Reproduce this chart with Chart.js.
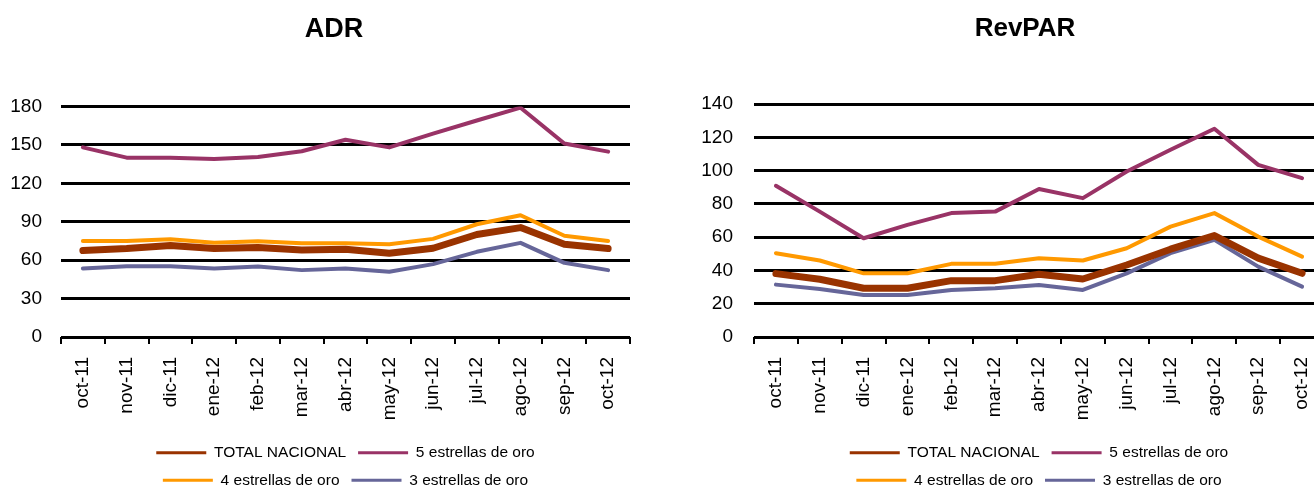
<!DOCTYPE html>
<html lang="es">
<head>
<meta charset="utf-8">
<title>ADR y RevPAR</title>
<script src="https://cdn.jsdelivr.net/npm/chart.js@4.4.0/dist/chart.umd.min.js"></script>
<style>
  html, body { margin: 0; padding: 0; background: #fff; overflow: hidden; }
  .chart-box { position: absolute; top: 0; height: 489px; }
  #adr-box { left: 0; width: 668px; }
  #revpar-box { left: 690px; width: 670px; }
</style>
</head>
<body>
<div class="chart-box" id="adr-box"><canvas id="adrChart"></canvas></div>
<div class="chart-box" id="revpar-box"><canvas id="revparChart"></canvas></div>
<script>
// Datos (oct-11 a oct-12)
const meses = ['oct-11', 'nov-11', 'dic-11', 'ene-12', 'feb-12', 'mar-12', 'abr-12',
               'may-12', 'jun-12', 'jul-12', 'ago-12', 'sep-12', 'oct-12'];
const categorias = ['TOTAL NACIONAL', '5 estrellas de oro', '4 estrellas de oro', '3 estrellas de oro'];

const adrTotal = [67.5, 69, 71.4, 69, 69.9, 68, 68.5, 65.4, 69.3, 80, 85.4, 72.4, 69];
const adr5 = [148, 140, 140, 139, 140.5, 145, 154, 148, 158.7, 169, 179, 151, 144.7];
const adr4 = [75, 75, 76.3, 73.5, 74.8, 73.2, 73.2, 72.4, 76.6, 88, 95, 79, 75];
const adr3 = [53.5, 55.3, 55.3, 53.5, 55, 52.2, 53.5, 50.9, 56.9, 66.5, 73.5, 57.9, 52.2];
const adrTicks = [0, 30, 60, 90, 120, 150, 180];

const revparTotal = [38.1, 34.7, 29.3, 29.3, 33.9, 33.9, 37.7, 34.9, 43.3, 52.8, 61, 47.4, 38.3];
const revpar5 = [90.9, 75.4, 59.4, 67.4, 74.5, 75.4, 89, 83.5, 99.5, 112.6, 125.2, 103.5, 95.5];
const revpar4 = [50.4, 46, 38.3, 38.3, 44, 44, 47.4, 46, 53.4, 66.4, 74.5, 60.4, 48.3];
const revpar3 = [31.5, 28.9, 25.3, 25.3, 28.3, 29.3, 31.3, 28.3, 38.3, 50.4, 58.4, 42.3, 30.3];
const revparTicks = [0, 20, 40, 60, 80, 100, 120, 140];

{
    const FUENTE = '"Liberation Sans", Arial, sans-serif';
    // colores y grosores de cada serie, en el mismo orden que categorias
    const estilos = [
        { color: '#993300', ancho: 7 },
        { color: '#993366', ancho: 4 },
        { color: '#FF9900', ancho: 4 },
        { color: '#666699', ancho: 4 }
    ];

    const Reporte = {
        charts: {},

        init() {
            this.charts.adr = this.crearGrafico('adrChart', 'ADR',
                [adrTotal, adr5, adr4, adr3], adrTicks,
                { ejeY: 61, padY: 19, derecha: 38, tituloPx: 27, tituloAbajo: 61 });
            this.charts.revpar = this.crearGrafico('revparChart', 'RevPAR',
                [revparTotal, revpar5, revpar4, revpar3], revparTicks,
                { ejeY: 64, padY: 21, derecha: 36, tituloPx: 26, tituloAbajo: 60 });
        },

        crearGrafico(id, titulo, valores, ticks, lay) {
            const ctx = document.getElementById(id);
            return new Chart(ctx, {
                type: 'line',
                data: {
                    labels: meses,
                    datasets: categorias.map((nombre, i) => ({
                        label: nombre,
                        data: valores[i],
                        borderColor: estilos[i].color,
                        backgroundColor: estilos[i].color,
                        borderWidth: estilos[i].ancho,
                        pointRadius: 0,
                        tension: 0,
                        borderJoinStyle: 'round',
                        borderCapStyle: 'round'
                    }))
                },
                options: {
                    responsive: true,
                    maintainAspectRatio: false,
                    animation: false,
                    layout: { padding: 0 },
                    scales: {
                        x: {
                            offset: true,
                            grid: { offset: true, drawOnChartArea: false, drawTicks: true, tickLength: 7, color: '#000', lineWidth: 2 },
                            border: { display: false },
                            ticks: { minRotation: 90, maxRotation: 90, padding: 13, color: '#000', font: { family: FUENTE, size: 19 } },
                            afterFit: (scale) => { scale.height = 96; }
                        },
                        y: {
                            min: ticks[0],
                            max: ticks[ticks.length - 1],
                            ticks: { stepSize: ticks[1] - ticks[0], padding: lay.padY, color: '#000', font: { family: FUENTE, size: 19 } },
                            grid: { color: '#000', lineWidth: 3, drawTicks: false },
                            border: { display: false },
                            afterFit: (scale) => { scale.width = lay.ejeY; }
                        },
                        // eje vacío a la derecha: deja el margen sin descentrar el título
                        margen: {
                            type: 'linear',
                            position: 'right',
                            ticks: { display: false },
                            grid: { display: false },
                            border: { display: false },
                            afterFit: (scale) => { scale.width = lay.derecha; }
                        }
                    },
                    plugins: {
                        title: {
                            display: true,
                            text: titulo,
                            color: '#000',
                            font: { family: FUENTE, size: lay.tituloPx, weight: 'bold' },
                            padding: { top: 13, bottom: lay.tituloAbajo }
                        },
                        legend: {
                            position: 'bottom',
                            fullSize: false,
                            maxHeight: 56,
                            labels: {
                                color: '#000',
                                font: { family: FUENTE, size: 15.5 },
                                boxWidth: 50,
                                boxHeight: 3,
                                padding: 12,
                                generateLabels: (chart) => chart.data.datasets.map((ds, i) => ({
                                    text: ds.label,
                                    fillStyle: ds.borderColor,
                                    strokeStyle: ds.borderColor,
                                    lineWidth: 0,
                                    fontColor: '#000',
                                    hidden: false,
                                    datasetIndex: i
                                }))
                            }
                        },
                        tooltip: { enabled: false }
                    }
                }
            });
        }
    };

    window.Reporte = Reporte;
    Reporte.init();
}
</script>
</body>
</html>
